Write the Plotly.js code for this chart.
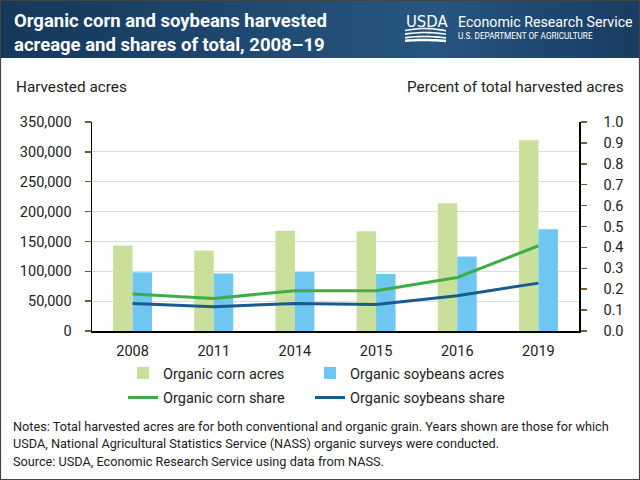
<!DOCTYPE html>
<html>
<head>
<meta charset="utf-8">
<script src="https://cdn.plot.ly/plotly-3.0.1.min.js"></script>
<style>html,body{margin:0;padding:0;background:#fff;}#chart{width:640px;height:480px;}</style>
</head>
<body>
<div id="chart"></div>
<script>
// ---- Data ----
const years = ["2008", "2011", "2014", "2015", "2016", "2019"];
const cornAcres = [143300, 135000, 167800, 167200, 214000, 319400];
const soyAcres = [98200, 96500, 98700, 95300, 124900, 170600];
const cornShare = [0.177, 0.156, 0.193, 0.193, 0.256, 0.408];
const soyShare = [0.132, 0.116, 0.132, 0.127, 0.169, 0.229];
const leftTicks = [0, 50000, 100000, 150000, 200000, 250000, 300000, 350000];
const rightTicks = [0, 0.1, 0.2, 0.3, 0.4, 0.5, 0.6, 0.7, 0.8, 0.9, 1.0];

// ---- Geometry helpers ----
const W = 640, H = 480;
const ML = 92, MR = 61, MT = 122, MB = 149;
const PW = W - ML - MR, PH = H - MT - MB;
const px = x => (x - ML) / PW;
const py = y => (H - MB - y) / PH;

const FONT = "Roboto, 'Liberation Sans', sans-serif";
const TXT = "#222222";

const shapes = [];
// header gradient strips
function lerp(a, b, t) { return Math.round(a + (b - a) * t); }
function hex(c) { return '#' + c.map(v => v.toString(16).padStart(2, '0')).join(''); }
const cA = [21, 55, 90], cB = [38, 86, 128], cC = [24, 60, 98];
const nStrips = 40;
for (let i = 0; i < nStrips; i++) {
  const x0 = i * W / nStrips, x1 = (i + 1) * W / nStrips + 0.6;
  const t = (x0 + x1) / 2 / W;
  let c;
  if (t < 0.68) c = cA.map((v, k) => lerp(v, cB[k], t / 0.68));
  else c = cB.map((v, k) => lerp(v, cC[k], (t - 0.68) / 0.32));
  shapes.push({type: 'rect', xref: 'paper', yref: 'paper', layer: 'below',
    x0: px(x0), x1: px(x1), y0: py(58), y1: py(0),
    fillcolor: hex(c), line: {width: 0}});
}
// USDA logo waves
function wave(yBase, amp) {
  const pts = [];
  for (let i = 0; i <= 12; i++) {
    const xx = 405 + i * (41 / 12);
    const yy = yBase - amp * Math.sin(i / 12 * Math.PI * 0.9 + 0.2);
    pts.push((i === 0 ? 'M' : 'L') + px(xx).toFixed(5) + ',' + py(yy).toFixed(5));
  }
  return pts.join(' ');
}
[31, 34.5, 38, 41].forEach((yb, i) => {
  shapes.push({type: 'path', xref: 'paper', yref: 'paper', path: wave(yb, 2.5 - i * 0.5),
    line: {color: '#ffffff', width: i === 3 ? 2.5 : 1.6}});
});
// outer border
shapes.push({type: 'rect', xref: 'paper', yref: 'paper',
  x0: px(0.5), x1: px(639.5), y0: py(479.5), y1: py(0.5),
  line: {color: '#444444', width: 1.2}, fillcolor: 'rgba(0,0,0,0)'});

const annotations = [
  {text: "<b>Organic corn and soybeans harvested<br>acreage and shares of total, 2008–19</b>",
   x: px(12), y: py(33), xref: 'paper', yref: 'paper', xanchor: 'left', yanchor: 'middle',
   align: 'left', showarrow: false, font: {family: FONT, size: 18.5, color: '#ffffff'}},
  {text: "USDA", x: px(404), y: py(21.5), xref: 'paper', yref: 'paper', xanchor: 'left', yanchor: 'middle',
   showarrow: false, font: {family: "'DejaVu Sans Condensed', 'Liberation Sans Narrow', sans-serif", size: 16.5, color: '#ffffff'}},
  {text: "Economic Research Service", x: px(456), y: py(22), xref: 'paper', yref: 'paper', xanchor: 'left', yanchor: 'middle',
   showarrow: false, font: {family: FONT, size: 14.2, color: '#ffffff'}},
  {text: "U.S. DEPARTMENT OF AGRICULTURE", x: px(456), y: py(35.5), xref: 'paper', yref: 'paper', xanchor: 'left', yanchor: 'middle',
   showarrow: false, font: {family: FONT, size: 8.2, color: '#ffffff'}},
  {text: "Harvested acres", x: px(14), y: py(87), xref: 'paper', yref: 'paper', xanchor: 'left', yanchor: 'middle',
   showarrow: false, font: {family: FONT, size: 15.3, color: TXT}},
  {text: "Percent of total harvested acres", x: px(626), y: py(87), xref: 'paper', yref: 'paper', xanchor: 'right', yanchor: 'middle',
   showarrow: false, font: {family: FONT, size: 15.3, color: TXT}},
  {text: "Notes: Total harvested acres are for both conventional and organic grain. Years shown are those for which<br>USDA, National Agricultural Statistics Service (NASS) organic surveys were conducted.",
   x: px(11), y: py(435), xref: 'paper', yref: 'paper', xanchor: 'left', yanchor: 'middle', align: 'left',
   showarrow: false, font: {family: FONT, size: 12.7, color: TXT}},
  {text: "Source: USDA, Economic Research Service using data from NASS.",
   x: px(11), y: py(461), xref: 'paper', yref: 'paper', xanchor: 'left', yanchor: 'middle', align: 'left',
   showarrow: false, font: {family: FONT, size: 12.7, color: TXT}}
];

const data = [
  {type: 'bar', name: 'Organic corn acres', x: years, y: cornAcres,
   marker: {color: '#c8e09c'}, legend: 'legend', hoverinfo: 'skip'},
  {type: 'bar', name: 'Organic soybeans acres', x: years, y: soyAcres,
   marker: {color: '#6fc7f1'}, legend: 'legend2', hoverinfo: 'skip'},
  {type: 'scatter', mode: 'lines', name: 'Organic corn share', x: years, y: cornShare, yaxis: 'y2',
   line: {color: '#3fad46', width: 3}, legend: 'legend3', hoverinfo: 'skip'},
  {type: 'scatter', mode: 'lines', name: 'Organic soybeans share', x: years, y: soyShare, yaxis: 'y2',
   line: {color: '#1b5a8e', width: 3}, legend: 'legend4', hoverinfo: 'skip'}
];

const legendBase = {orientation: 'h', xanchor: 'left', yanchor: 'middle', xref: 'paper', yref: 'paper',
  bgcolor: 'rgba(0,0,0,0)', font: {family: FONT, size: 14.5, color: TXT}};
const col1 = 123, col2 = 310, row1 = 373, row2 = 397.5;

const layout = {
  width: W, height: H,
  margin: {l: ML, r: MR, t: MT, b: MB, pad: 0},
  paper_bgcolor: '#ffffff', plot_bgcolor: '#ffffff',
  font: {family: FONT, color: TXT},
  barmode: 'group', bargap: 0.52, bargroupgap: 0,
  showlegend: true,
  legend: Object.assign({}, legendBase, {x: px(col1), y: py(row1)}),
  legend2: Object.assign({}, legendBase, {x: px(col2), y: py(row1)}),
  legend3: Object.assign({}, legendBase, {x: px(col1), y: py(row2)}),
  legend4: Object.assign({}, legendBase, {x: px(col2), y: py(row2)}),
  xaxis: {type: 'category', categoryorder: 'array', categoryarray: years,
    showline: true, linecolor: '#000000', linewidth: 1.5, ticks: '', showgrid: false,
    tickfont: {family: FONT, size: 14.5, color: TXT}, ticklabelstandoff: 6, fixedrange: true},
  yaxis: {range: [0, 350000], tickvals: leftTicks, tickformat: ',', showline: true,
    linecolor: '#000000', linewidth: 1.5, ticks: 'outside', ticklen: 6, tickcolor: '#7a5a30', tickwidth: 1.5,
    gridcolor: '#dcdcdc', gridwidth: 1, zeroline: false,
    tickfont: {family: FONT, size: 14.5, color: TXT}, ticklabelstandoff: 10, fixedrange: true},
  yaxis2: {range: [0, 1.0], tickvals: rightTicks, tickformat: '.1f', overlaying: 'y', side: 'right',
    showline: true, linecolor: '#000000', linewidth: 1.5, ticks: 'outside', ticklen: 6, tickcolor: '#7a5a30', tickwidth: 1.5,
    showgrid: false, zeroline: false,
    tickfont: {family: FONT, size: 14.5, color: TXT}, ticklabelstandoff: 14, fixedrange: true},
  shapes: shapes,
  annotations: annotations
};

Plotly.newPlot('chart', data, layout, {staticPlot: true, displayModeBar: false});
</script>
</body>
</html>
